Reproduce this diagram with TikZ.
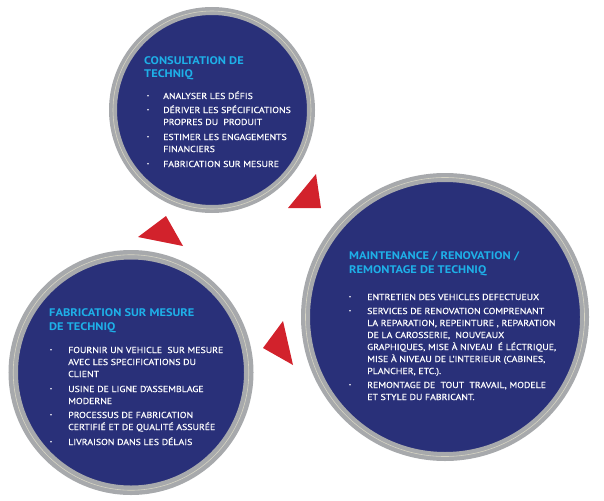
\documentclass[tikz,border=0pt]{standalone}
\usepackage{fontspec}
\setmainfont{PT Sans}[FakeStretch=1.13]
\newfontfamily\itemfont{PT Sans}[FakeStretch=1.13,FakeBold=0.35]
\definecolor{navy}{RGB}{41,48,121}
\definecolor{ringgray}{RGB}{167,169,172}
\definecolor{rimlight}{RGB}{214,212,196}
\definecolor{titlecyan}{RGB}{30,176,232}
\definecolor{arrowred}{RGB}{210,34,44}
\begin{document}
\begin{tikzpicture}[x=1pt,y=-1pt,
  bubble/.style={circle, fill=navy, draw=ringgray, inner sep=0pt},
  ttl/.style={anchor=base west, inner sep=0pt, align=left, text=titlecyan, font=\fontsize{11}{13.8}\selectfont\bfseries},
  itm/.style={anchor=base west, inner sep=0pt, align=left, text=white, font=\itemfont\fontsize{8.7}{12}\selectfont},
  bul/.style={circle, fill=white, inner sep=0pt, minimum size=1.8pt},
  tri/.style={fill=arrowred}]
\useasboundingbox (0,0) rectangle (604,500);
% circles
\node[bubble, minimum size=198pt, line width=8pt] (top) at (212,110) {};
\node[bubble, minimum size=279pt, line width=9pt] (right) at (445,317) {};
\node[bubble, minimum size=235.5pt, line width=9.5pt] (left) at (131,372.5) {};
\draw[rimlight, line width=0.6pt] (top.center) circle (99pt);
\draw[rimlight, line width=0.6pt] (right.center) circle (139.5pt);
\draw[rimlight, line width=0.6pt] (left.center) circle (117.75pt);
% arrows
\fill[tri] (316,174) -- (288,208) -- (321,208) -- cycle;
\fill[tri] (166,216) -- (138,237) -- (183,246) -- cycle;
\fill[tri] (283,321) -- (263,348) -- (293,365) -- cycle;
% top circle text (anchor = baseline of the last line)
\node[ttl] (t0) at (144,78) {CONSULTATION DE\\TECHNIQ};
\node[itm] (t1) at (163,99) {ANALYSER LES DÉFIS};
\node[itm] (t2) at (163,125) {DÉRIVER LES SPÉCIFICATIONS\\PROPRES DU~ PRODUIT};
\node[itm] (t3) at (163,152) {ESTIMER LES ENGAGEMENTS\\FINANCIERS};
\node[itm] (t4) at (163,167) {FABRICATION SUR MESURE};
\foreach \yy in {99,113,140,167} \node[bul] at (148,\yy-3.3) {};
% right circle text
\node[ttl] (r0) at (349,273) {MAINTENANCE / RENOVATION /\\REMONTAGE DE TECHNIQ};
\node[itm] (r1) at (367,300) {ENTRETIEN DES VEHICLES DEFECTUEUX};
\node[itm] (r2) at (367,374) {SERVICES DE RENOVATION COMPRENANT\\LA REPARATION, REPEINTURE , REPARATION\\DE LA CAROSSERIE,~ NOUVEAUX\\GRAPHIQUES, MISE À NIVEAU~ É LÉCTRIQUE,\\MISE À NIVEAU DE L’INTERIEUR (CABINES,\\PLANCHER, ETC.).};
\node[itm] (r3) at (367,400) {REMONTAGE DE~ TOUT~ TRAVAIL, MODELE\\ET STYLE DU FABRICANT.};
\foreach \yy in {300,314,388} \node[bul] at (350,\yy-3.3) {};
% left circle text
\node[ttl] (l0) at (49,330) {FABRICATION SUR MESURE\\DE TECHNIQ};
\node[itm] (l1) at (68,377) {FOURNIR UN VEHICLE~ SUR MESURE\\AVEC LES SPECIFICATIONS DU\\CLIENT};
\node[itm] (l2) at (68,404) {USINE DE LIGNE D’ASSEMBLAGE\\MODERNE};
\node[itm] (l3) at (68,430) {PROCESSUS DE FABRICATION\\CERTIFIÉ ET DE QUALITÉ ASSURÉE};
\node[itm] (l4) at (68,445) {LIVRAISON DANS LES DÉLAIS};
\foreach \yy in {353,392,418,445} \node[bul] at (51,\yy-3.3) {};
\end{tikzpicture}
\end{document}
